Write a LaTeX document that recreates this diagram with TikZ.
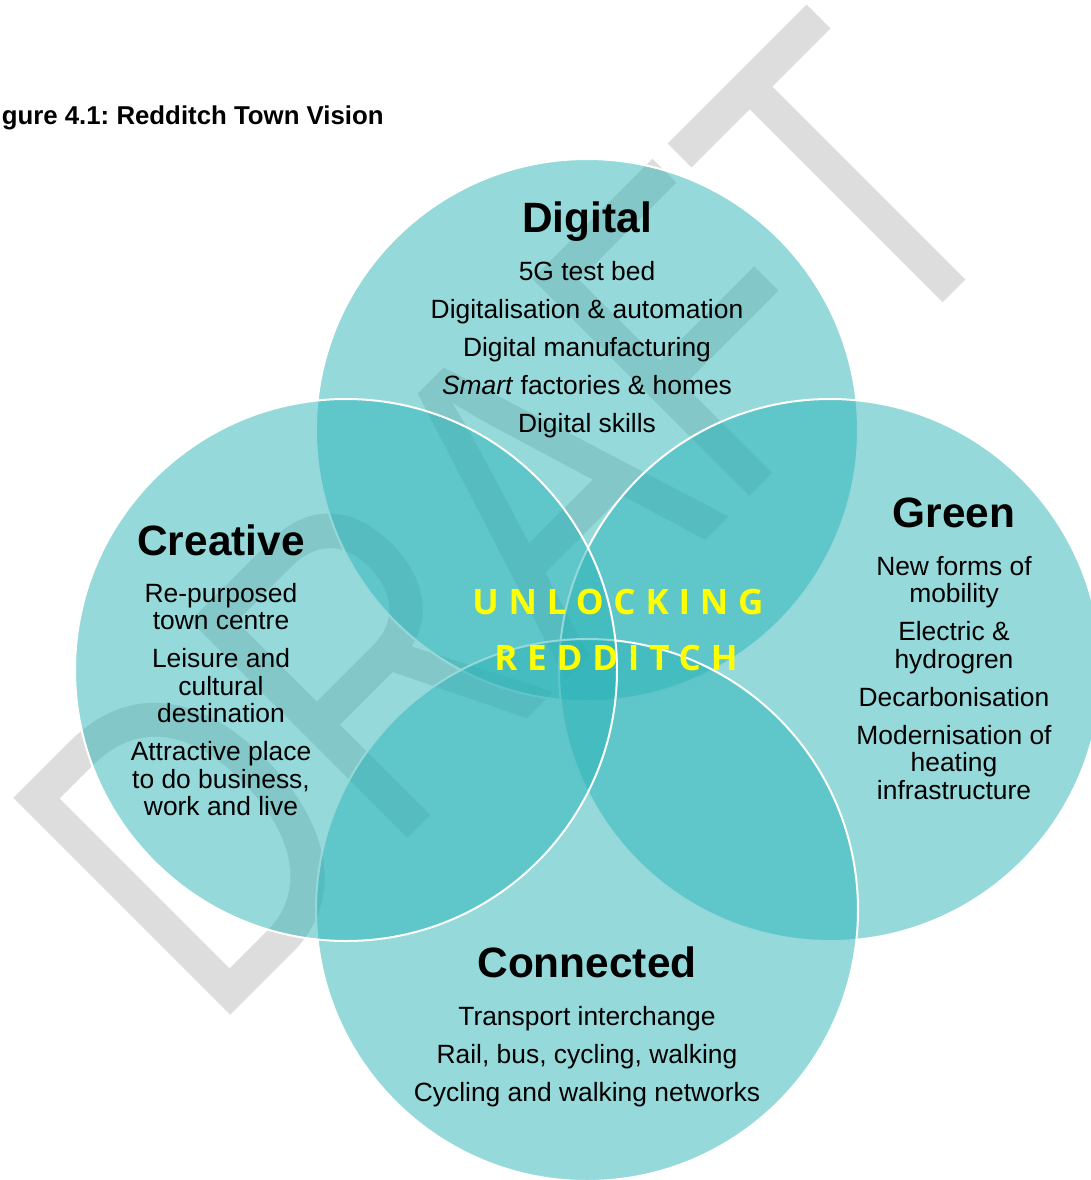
\documentclass[tikz,border=0pt]{standalone}
\usepackage{fontspec}
\setmainfont{Liberation Sans}
\newfontfamily\unlockfont{Open Sans}[LetterSpace=28]
\usepackage{graphicx}
\usetikzlibrary{positioning}
\definecolor{venn}{RGB}{43,179,183}
\definecolor{wmgray}{RGB}{221,221,221}
\definecolor{unlockyellow}{RGB}{255,255,0}
\frenchspacing

\begin{document}
\begin{tikzpicture}[
			x=0.5pt, y=-0.5pt,
			ring/.style={
				circle,
				inner sep=0pt,
				minimum size=271pt,
				draw=white,
				line width=1pt,
				fill=venn,
				fill opacity=0.5
			},
			head/.style={
				font=\fontsize{21.2}{24}\selectfont\bfseries,
				inner sep=0pt,
				anchor=base
			},
			items/.style={
				font=\fontsize{13.2}{13.75}\selectfont,
				inner sep=0pt,
				anchor=base
			},
			unlock/.style={
				font=\unlockfont\bfseries\fontsize{17.5}{20}\selectfont,
				text=unlockyellow,
				inner sep=0pt,
				anchor=base
			}
			]
			\useasboundingbox (0,0) rectangle (1091,1180);
			
			% watermark behind the circles
			\node [rotate=45, anchor=base west, inner sep=0pt, text=wmgray,
				font=\fontsize{223}{223}\selectfont] (draft) at (210,1036)
				{\scalebox{0.78}[1]{DRAFT}};
			
			% caption
			\node [font=\fontsize{12.9}{15}\selectfont\bfseries, inner sep=0pt,
				anchor=base east] (caption) at (384,124)
				{Figure 4.1: Redditch Town Vision};
			
			% the four circles
			\node [ring] (digital) at (587,430) {};
			\node [ring] (green) at (830,670) {};
			\node [ring] (connected) at (587,910) {};
			\node [ring] (creative) at (346,670) {};
			
			% Digital
			\node [head] (digitalhead) at (587,232) {Digital};
			\node [items] (digitallist) at (587,280)
			{%
				\begin{tabular}[t]{@{}c@{}}
				5G test bed\\[5.25pt]
				Digitalisation \& automation\\[5.25pt]
				Digital manufacturing\\[5.25pt]
				\textit{Smart} factories \& homes\\[5.25pt]
				Digital skills
				\end{tabular}
			};
			
			% Creative
			\node [head] (creativehead) at (221,555) {Creative};
			\node [items] (creativelist) at (221,602)
			{%
				\begin{tabular}[t]{@{}c@{}}
				Re-purposed\\
				town centre\\[5.25pt]
				Leisure and\\
				cultural\\
				destination\\[5.25pt]
				Attractive place\\
				to do business,\\
				work and live
				\end{tabular}
			};
			
			% Green
			\node [head] (greenhead) at (954,527) {Green};
			\node [items] (greenlist) at (954,575)
			{%
				\begin{tabular}[t]{@{}c@{}}
				New forms of\\
				mobility\\[5.25pt]
				Electric \&\\
				hydrogren\\[5.25pt]
				Decarbonisation\\[5.25pt]
				Modernisation of\\
				heating\\
				infrastructure
				\end{tabular}
			};
			
			% Connected
			\node [head] (connectedhead) at (587,977) {Connected};
			\node [items] (connectedlist) at (587,1025)
			{%
				\begin{tabular}[t]{@{}c@{}}
				Transport interchange\\[5.25pt]
				Rail, bus, cycling, walking\\[5.25pt]
				Cycling and walking networks
				\end{tabular}
			};
			
			% centre
			\node [unlock] (unlocking) at (618,614) {UNLOCKING};
			\node [unlock] (redditch) at (616,670) {REDDITCH};
			
		\end{tikzpicture}
\end{document}
